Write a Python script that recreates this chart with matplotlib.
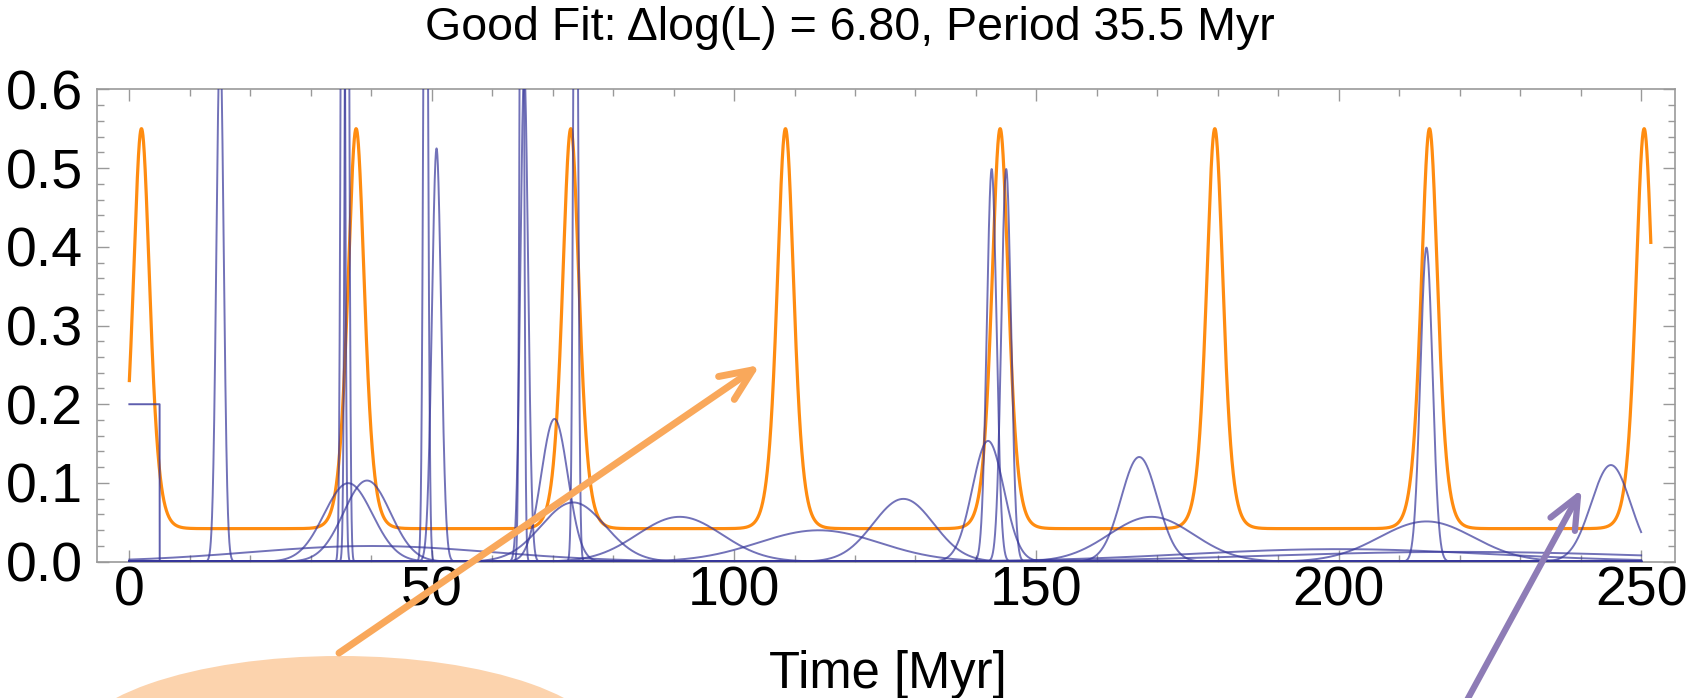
import numpy as np
import matplotlib
matplotlib.use('Agg')
import matplotlib.pyplot as plt
from matplotlib.patches import Ellipse, FancyArrowPatch, ArrowStyle
from matplotlib.ticker import MultipleLocator

plt.rcParams['font.family'] = ['Liberation Sans', 'DejaVu Sans']

# crater ages [Myr] and their 1-sigma errors
crater_age = [15.0, 35.3, 36.0, 36.2, 39.3, 40.0, 49.0, 50.8, 64.9, 65.3,
              70.3, 73.8, 73.4, 91.0, 114.0, 128.0, 142.0, 142.6, 145.0,
              167.0, 169.0, 214.5, 214.5, 200.0, 220.0, 245.0]
crater_err = [0.6, 0.3, 0.3, 4.0, 3.87, 20.0, 0.35, 0.76, 0.3, 0.64,
              2.2, 0.35, 5.3, 7.0, 10.0, 5.0, 2.6, 0.8, 0.8,
              3.0, 7.0, 1.0, 7.8, 25.0, 32.0, 3.25]
# one crater only known to lie in an age window (flat box)
box_lo, box_hi = 0.0, 5.0

# periodic model (orange): peak times, peak value, background level
model_peaks = [2.0, 37.5, 73.0, 108.5, 144.0, 179.5, 215.0, 250.5]
model_top = 0.55
model_base = 0.042
model_width = 1.85
model_tmax = 251.6

title = u'Good Fit: \u0394log(L) = 6.80, Period 35.5 Myr'

W, H = 1696, 698
fig = plt.figure(figsize=(W / 100, H / 100), dpi=100)
ax = fig.add_axes([96.7 / W, 1 - 561.7 / H, (1675 - 96.7) / W, (561.7 - 89.3) / H])

# orange model curve
t = np.linspace(0, model_tmax, 20000)
d = np.min(np.abs(t[:, None] - np.array(model_peaks)[None, :]), axis=1)
model = model_base + (model_top - model_base) / np.cosh(d / model_width) ** 2
ax.plot(t, model, color='#ff8c10', lw=2.3, zorder=2)

# blue crater probability curves
tb = np.linspace(0, 250, 25001)
blue = '#36369a'
for mu, s in zip(crater_age, crater_err):
    p = np.exp(-0.5 * ((tb - mu) / s) ** 2) / (s * np.sqrt(2 * np.pi))
    ax.plot(tb, p, color=blue, lw=1.4, alpha=0.7, zorder=3)
box = np.where((tb >= box_lo) & (tb <= box_hi), 1.0 / (box_hi - box_lo), 0.0)
ax.plot(tb, box, color=blue, lw=1.4, alpha=0.8, zorder=3)

ax.set_xlim(-5.4, 255.6)
ax.set_ylim(0, 0.6)
ax.xaxis.set_major_locator(MultipleLocator(50))
ax.xaxis.set_minor_locator(MultipleLocator(10))
ax.yaxis.set_major_locator(MultipleLocator(0.1))
ax.yaxis.set_minor_locator(MultipleLocator(0.02))
ax.yaxis.set_major_formatter(lambda v, pos: '%.1f' % v)
ax.tick_params(which='both', direction='in', top=True, right=True,
               color='#999999', width=1.0, labelsize=40)
ax.tick_params(which='major', length=8.5)
ax.tick_params(which='minor', length=5)
ax.tick_params(axis='x', pad=3)
ax.tick_params(axis='y', pad=10)
for sp in ax.spines.values():
    sp.set_color('#9a9a9a')
    sp.set_linewidth(1.2)

fig.text(888 / W, 1 - 688 / H, 'Time [Myr]', ha='center', va='baseline', fontsize=36.5)
fig.text(850 / W, 1 - 40 / H, title, ha='center', va='baseline', fontsize=33.5)

# annotation overlays, placed in figure pixels (y measured from the top)
def px(x, y):
    return (x / W, 1 - y / H)

fig.add_artist(Ellipse(px(340, 751), 540 / W, 190 / H,
                       transform=fig.transFigure, color='#fcd3ad', lw=0, zorder=5))
head = ArrowStyle('->', head_length=23, head_width=10)
fig.add_artist(FancyArrowPatch(px(339, 653), px(760, 365), transform=fig.transFigure,
                               arrowstyle=head, mutation_scale=1, lw=5, color='#f9a85b',
                               shrinkA=0, shrinkB=0, capstyle='round', joinstyle='round',
                               zorder=6))
fig.add_artist(FancyArrowPatch(px(1434.5, 760), px(1581.7, 489.3), transform=fig.transFigure,
                               arrowstyle=head, mutation_scale=1, lw=4.5, color='#8e7cb6',
                               shrinkA=0, shrinkB=0, capstyle='round', joinstyle='round',
                               zorder=6))

fig.savefig('out.png', dpi=100)
